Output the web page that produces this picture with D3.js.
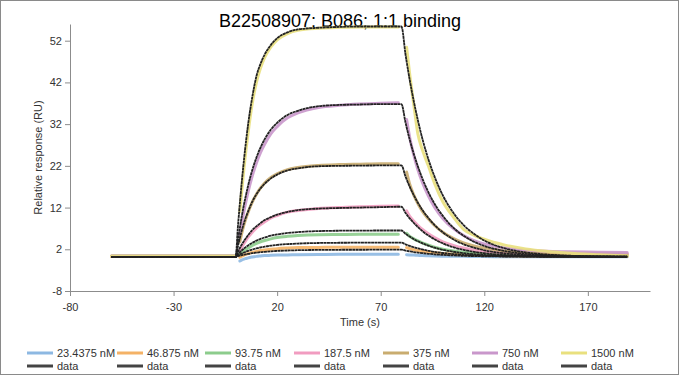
<!DOCTYPE html>
<html><head><meta charset="utf-8">
<script src="https://cdn.jsdelivr.net/npm/d3@7"></script>
<style>
html,body{margin:0;padding:0;background:#fff;}
svg{display:block;font-family:"Liberation Sans",Arial,sans-serif;}
</style></head>
<body>
<svg id="chart" width="679" height="375"></svg>
<script>
// ---- data ----
const concentrations = ["23.4375 nM","46.875 nM","93.75 nM","187.5 nM","375 nM","750 nM","1500 nM"];
const fitLabel = "data";
const xTicks = [-80,-30,20,70,120,170];
const yTicks = [-8,2,12,22,32,42,52];

// baseline (both fit and measured)
const baseTime = [-60,-45,-30,-15,0];
const baseFit = [0.2,0.2,0.2,0.2,0.2];
const baseData = [0.3,0.35,0.3,0.3,0.3];

// black "data" (fit) curves
const fitAssocTime = [0,1,2,3,4,5,6,8,10,12,14,17,20,25,30,40,50,60,70,80];
const fitAssoc = [
  [0.2,0.34,0.47,0.59,0.7,0.8,0.9,1.06,1.19,1.31,1.4,1.52,1.61,1.71,1.78,1.85,1.88,1.89,1.9,1.9],
  [0.2,0.49,0.76,1.01,1.23,1.43,1.62,1.94,2.22,2.44,2.63,2.86,3.04,3.24,3.37,3.51,3.56,3.58,3.6,3.6],
  [0.2,0.77,1.29,1.76,2.19,2.58,2.93,3.55,4.06,4.48,4.84,5.25,5.56,5.91,6.13,6.36,6.45,6.48,6.5,6.5],
  [0.2,1.3,2.3,3.2,4.0,4.7,5.4,6.6,7.5,8.3,9.0,9.7,10.3,10.95,11.4,11.75,11.9,12.0,12.1,12.2],
  [0.2,2.6,4.7,6.6,8.3,9.8,11.1,13.4,15.2,16.6,17.7,19.0,19.9,20.9,21.4,21.9,22.0,22.05,22.1,22.1],
  [0.2,3.85,7.1,10.1,12.8,15.1,17.3,21.0,24.0,26.4,28.4,30.7,32.3,34.2,35.2,36.3,36.6,36.7,36.8,36.8],
  [0.2,7,13,18.5,23.5,28,32,38.5,43.5,46.5,48.7,51,52.6,54,54.7,55.1,55.3,55.4,55.4,55.4]
];
const fitDissocTime = [80,82,84,86,88,90,93,96,100,105,110,115,120,130,140,150,160,175,189];
const fitDissoc = [
  [1.9,1.69,1.51,1.34,1.2,1.08,0.92,0.79,0.65,0.53,0.43,0.37,0.32,0.26,0.23,0.21,0.21,0.2,0.2],
  [3.6,3.18,2.81,2.49,2.21,1.96,1.64,1.38,1.11,0.85,0.67,0.54,0.44,0.33,0.26,0.23,0.22,0.2,0.2],
  [6.5,5.7,5.04,4.44,3.92,3.46,2.87,2.39,1.88,1.41,1.07,0.82,0.65,0.43,0.32,0.26,0.23,0.21,0.2],
  [12.2,10.7,9.4,8.3,7.3,6.4,5.3,4.4,3.4,2.5,1.86,1.4,1.06,0.64,0.43,0.32,0.26,0.22,0.21],
  [22.1,19.4,17.0,14.9,13.1,11.5,9.5,7.8,6.05,4.4,3.2,2.4,1.76,1.0,0.62,0.42,0.31,0.24,0.22],
  [36.8,32.3,28.3,24.8,21.8,19.1,15.7,12.9,10.0,7.2,5.25,3.8,2.8,1.55,0.9,0.56,0.39,0.27,0.23],
  [55.4,48.6,42.6,37.4,32.8,28.7,23.6,19.4,14.9,10.8,7.8,5.7,4.1,2.2,1.25,0.75,0.48,0.3,0.24]
];

// coloured measured curves
const dataAssocTime = [2,3,4,5,6,8,10,12,14,17,20,25,30,40,50,60,70,78.5];
const dataAssoc = [
  [-0.8,-0.55,-0.35,-0.2,-0.05,0.15,0.3,0.4,0.5,0.55,0.6,0.65,0.7,0.75,0.8,0.8,0.8,0.8],
  [0.1,0.35,0.6,0.8,0.95,1.25,1.5,1.7,1.85,2.0,2.15,2.3,2.4,2.45,2.5,2.5,2.5,2.5],
  [0.8,1.2,1.6,2.0,2.3,2.9,3.4,3.8,4.1,4.5,4.8,5.1,5.3,5.5,5.55,5.6,5.6,5.6],
  [1.6,2.6,3.4,4.2,4.9,6.1,7.1,7.9,8.6,9.5,10.1,10.9,11.3,11.8,12.0,12.2,12.3,12.4],
  [3.8,6.0,7.9,9.5,10.9,13.3,15.2,16.7,17.9,19.2,20.1,21.1,21.6,22.1,22.3,22.4,22.5,22.5],
  [5.5,8.5,11.2,13.6,15.8,19.6,22.7,25.2,27.2,29.7,31.4,33.5,34.7,36.0,36.5,36.8,37.0,37.1],
  [11,16.5,21.5,26,30,37,42,45.5,48,50.5,52.2,53.7,54.5,55,55.2,55.3,55.3,55.3]
];
const dataDissocTime = [82.5,84,86,88,90,93,96,100,105,110,115,120,130,140,150,160,175,189];
const dataDissoc = [
  [0.7,0.65,0.6,0.55,0.5,0.45,0.4,0.35,0.3,0.3,0.25,0.25,0.2,0.2,0.2,0.2,0.2,0.2],
  [2.4,2.15,1.9,1.7,1.55,1.35,1.2,1.0,0.85,0.7,0.6,0.55,0.45,0.4,0.4,0.35,0.35,0.35],
  [5.8,5.1,4.5,4.0,3.55,3.0,2.5,2.0,1.6,1.3,1.05,0.9,0.75,0.65,0.6,0.6,0.55,0.55],
  [11.2,9.9,8.7,7.7,6.8,5.7,4.8,3.8,2.95,2.3,1.85,1.55,1.2,1.05,0.95,0.9,0.85,0.85],
  [20.5,17.6,15.0,12.9,11.2,9.3,7.7,6.1,4.6,3.5,2.8,2.3,1.6,1.25,1.05,0.95,0.9,0.85],
  [33.1,28.8,24.5,21.0,18.2,14.8,12.1,9.4,7.0,5.3,4.1,3.3,2.3,1.8,1.5,1.4,1.3,1.2],
  [50.4,44,36.5,29.5,26,22,17.8,13.4,9.8,6.8,5.4,4.4,3.0,2.1,1.5,1.1,0.7,0.4]
];

// ---- styles ----
const colors = ["#8db8e2","#f4b266","#8ccc8c","#f19cc0","#c9ac6f","#c997cb","#e9e07e"];
const fitColor = "#222222";

// ---- layout ----
const svg = d3.select("#chart");
const W = 679, H = 375;
const m = {left:70, right:29, top:24, bottom:84};
const x = d3.scaleLinear().domain([-80,200]).range([m.left, W - m.right]);
const y = d3.scaleLinear().domain([-8,56]).range([H - m.bottom, m.top]);

svg.append("rect").attr("x",0.5).attr("y",0.5).attr("width",W-1).attr("height",H-1)
  .attr("fill","#fff").attr("stroke","#8a8a8a");

svg.append("text").attr("x",340).attr("y",27).attr("text-anchor","middle")
  .attr("font-size",18).attr("fill","#000").text("B22508907; B086; 1:1 binding");

// axes
const fmt = d => String(d);
const xAxis = d3.axisBottom(x).tickValues(xTicks).tickFormat(fmt).tickSize(5).tickSizeOuter(0);
const yAxis = d3.axisLeft(y).tickValues(yTicks).tickFormat(fmt).tickSize(5).tickSizeOuter(0);
const gx = svg.append("g").attr("transform",`translate(0,${y(-8)})`).call(xAxis);
const gy = svg.append("g").attr("transform",`translate(${x(-80)},0)`).call(yAxis);
[gx,gy].forEach(g=>{
  g.selectAll("path,line").attr("stroke","#8c8c8c");
  g.selectAll("text").attr("fill","#333").attr("font-size",11).attr("font-family","Liberation Sans, Arial, sans-serif");
});
gx.selectAll("text").attr("dy","1.1em");

svg.append("text").attr("x",(x(-80)+x(200))/2).attr("y",326).attr("text-anchor","middle")
  .attr("font-size",11).attr("fill","#333").text("Time (s)");
svg.append("text").attr("transform",`translate(42,${(y(-8)+y(56))/2}) rotate(-90)`)
  .attr("text-anchor","middle").attr("font-size",11).attr("fill","#333").text("Relative response (RU)");

const line = d3.line().x(d=>x(d[0])).y(d=>y(d[1])).curve(d3.curveMonotoneX);
const zip = (ts, vs) => ts.map((t,i)=>[t, vs[i]]);

const plot = svg.append("g");
// coloured measured data
concentrations.forEach((c,i)=>{
  const segs = [zip(baseTime, baseData), zip(dataAssocTime, dataAssoc[i]), zip(dataDissocTime, dataDissoc[i])];
  segs.forEach(s=>{
    plot.append("path").attr("d", line(s)).attr("fill","none")
      .attr("stroke", colors[i]).attr("stroke-width",3).attr("stroke-linecap","round").attr("opacity",0.9);
  });
});
// black fit curves
concentrations.forEach((c,i)=>{
  const pts = zip(baseTime, baseFit).concat(zip(fitAssocTime, fitAssoc[i]).slice(1), zip(fitDissocTime, fitDissoc[i]).slice(1));
  plot.append("path").attr("d", line(pts)).attr("fill","none")
    .attr("stroke", fitColor).attr("stroke-width",1.8).attr("stroke-dasharray","3,0.4");
});

// legend
const legX = [27,117,205,294,383,472,561];
const lg = svg.append("g").attr("font-size",11).attr("fill","#333");
concentrations.forEach((c,i)=>{
  const gx0 = legX[i];
  lg.append("line").attr("x1",gx0).attr("x2",gx0+26).attr("y1",353).attr("y2",353)
    .attr("stroke",colors[i]).attr("stroke-width",3);
  lg.append("text").attr("x",gx0+30).attr("y",357).attr("fill","#333").text(c);
  lg.append("line").attr("x1",gx0).attr("x2",gx0+26).attr("y1",366).attr("y2",366)
    .attr("stroke","#444").attr("stroke-width",3);
  lg.append("text").attr("x",gx0+30).attr("y",370).attr("fill","#333").text(fitLabel);
});
</script>
</body></html>
